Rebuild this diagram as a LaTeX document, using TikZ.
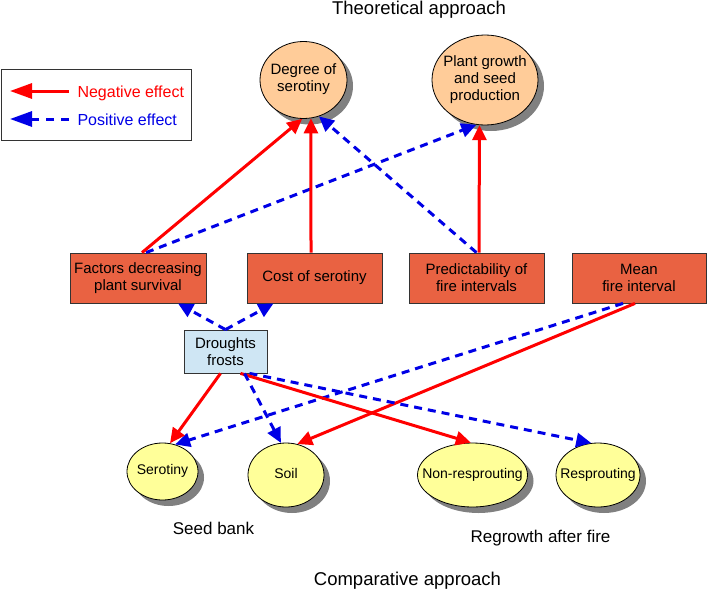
\documentclass[tikz,border=0pt]{standalone}
\usepackage{fontspec}
\setmainfont{Liberation Sans}
\usetikzlibrary{arrows.meta,shapes.geometric,shadows}
\definecolor{boxred}{RGB}{233,98,66}
\definecolor{peach}{RGB}{255,204,153}
\definecolor{paleyellow}{RGB}{255,255,153}
\definecolor{paleblue}{RGB}{207,230,244}
\definecolor{shadowgray}{RGB}{128,128,128}
\definecolor{negred}{RGB}{255,0,0}
\definecolor{posblue}{RGB}{0,0,230}
\newcommand\celltext[1]{\makebox[0pt]{\begin{tabular}{@{}c@{}}#1\end{tabular}}}
\begin{document}
\begin{tikzpicture}[x=1pt,y=-1pt,
  ell/.style={ellipse, draw=black, line width=0.8pt, inner sep=0pt,
    drop shadow={shadow xshift=6pt, shadow yshift=-6pt, fill=shadowgray, opacity=1}},
  topell/.style={ell, fill=peach, font=\fontsize{15}{17}\selectfont},
  botell/.style={ell, fill=paleyellow, font=\fontsize{14}{16}\selectfont},
  factor/.style={rectangle, draw=black!80, line width=0.8pt, fill=boxred, align=center,
    minimum width=135pt, minimum height=50pt, inner sep=0pt, font=\fontsize{15}{17}\selectfont},
  negeff/.style={draw=negred, line width=3pt, -{Triangle[length=15pt,width=14pt]}},
  poseff/.style={draw=posblue, line width=3pt, dash pattern=on 8pt off 6pt, -{Triangle[length=15pt,width=14pt]}},
  lbl/.style={anchor=base, font=\fontsize{18.5}{20}\selectfont},
  sublbl/.style={anchor=base, font=\fontsize{17}{19}\selectfont}
]
\useasboundingbox (0,0) rectangle (709,589);

% titles
\node[lbl] (title) at (419,14) {Theoretical approach};
\node[lbl] (comp) at (407.5,585) {Comparative approach};
\node[sublbl] (seedbank) at (213.5,534) {Seed bank};
\node[sublbl] (regrowth) at (540.5,542) {Regrowth after fire};

% legend
\node[draw=black!80, line width=0.8pt, minimum width=190pt, minimum height=71pt, inner sep=0pt] (legend) at (96,104.5) {};
\coordinate (l1s) at (69,91);
\coordinate (l1e) at (10,91);
\coordinate (l2s) at (69,119);
\coordinate (l2e) at (10,119);
\draw[draw=negred, line width=3pt, -{Triangle[length=22pt,width=15pt]}] (l1s) -- (l1e);
\draw[draw=posblue, line width=3pt, dash pattern=on 8pt off 7pt, -{Triangle[length=22pt,width=15pt]}] (l2s) -- (l2e);
\node[anchor=base west, text=negred, font=\fontsize{16}{18}\selectfont] (negtxt) at (74,97) {Negative effect};
\node[anchor=base west, text=posblue, font=\fontsize{16}{18}\selectfont] (postxt) at (74,125) {Positive effect};

% top ellipses
\node[topell, minimum width=87pt, minimum height=77pt] (deg) at (303.5,80) {\celltext{Degree of\\serotiny}};
\node[topell, minimum width=106pt, minimum height=90pt] (plant) at (485,80) {\celltext{Plant growth\\and seed\\production}};

% factor boxes
\node[factor, minimum width=136pt] (fac) at (138,278) {Factors decreasing\\plant survival};
\node[factor] (cost) at (314.5,278) {Cost of serotiny};
\node[factor] (pred) at (476.5,278) {Predictability of\\fire intervals};
\node[factor, minimum width=134pt] (mean) at (639,278) {Mean\\fire interval};

% droughts
\node[rectangle, draw=black!80, line width=0.8pt, fill=paleblue, align=center,
  minimum width=83pt, minimum height=43pt, inner sep=0pt,
  font=\fontsize{15}{17}\selectfont] (dro) at (225.5,351.5) {Droughts\\frosts};

% bottom ellipses
\node[botell, minimum width=71pt, minimum height=57pt] (sero) at (162.5,471.5) {\celltext{Serotiny}};
\node[botell, minimum width=76pt, minimum height=64pt] (soil) at (286,475) {\celltext{Soil}};
\node[botell, minimum width=110pt, minimum height=64pt] (nonr) at (472.5,475) {\celltext{Non-resprouting}};
\node[botell, minimum width=84pt, minimum height=64pt] (resp) at (598,475) {\celltext{Resprouting}};

% connectors, upper part
\draw[poseff] ([xshift=8pt]fac.north) -- (plant.259);
\draw[negeff] ([xshift=4pt]fac.north) -- (deg.268);
\draw[negeff] ([xshift=-3.5pt]cost.north) -- (deg.281);
\draw[poseff] (pred.north) -- (deg.293);
\draw[negeff] ([xshift=2.5pt]pred.north) -- (plant.263);

% droughts up
\draw[poseff] (dro.north) -- ([xshift=40pt]fac.south);
\draw[poseff] (dro.north) -- ([xshift=-41pt]cost.south);

% mean fire interval down
\draw[poseff] ([xshift=-16pt]mean.south) -- (sero.65);
\draw[negeff] ([xshift=-4pt]mean.south) -- (soil.70);

% droughts down
\draw[poseff] ([xshift=24pt]dro.south) -- (resp.102);
\draw[negeff] ([xshift=15pt]dro.south) -- (nonr.93);
\draw[poseff] ([xshift=19pt]dro.south) -- (soil.99);
\draw[negeff] ([xshift=-5pt]dro.south) -- (sero.75);
\end{tikzpicture}
\end{document}
